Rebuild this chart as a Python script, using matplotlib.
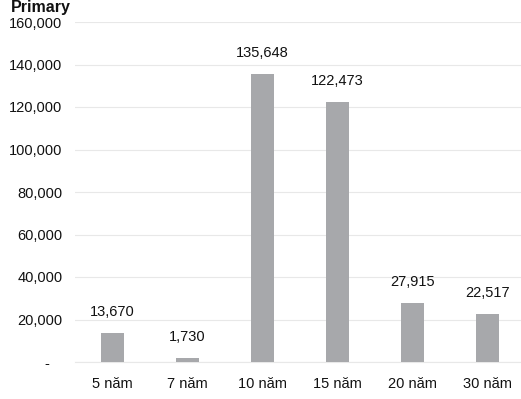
import matplotlib
matplotlib.use("Agg")
import matplotlib.pyplot as plt
from matplotlib import font_manager

categories = ["5 năm", "7 năm", "10 năm", "15 năm", "20 năm", "30 năm"]
values = [13670, 1730, 135648, 122473, 27915, 22517]
yticks = [0, 20000, 40000, 60000, 80000, 100000, 120000, 140000, 160000]
ytick_labels = ["-   ", "20,000", "40,000", "60,000", "80,000", "100,000", "120,000", "140,000", "160,000"]

names = {f.name for f in font_manager.fontManager.ttflist}
fam = "Liberation Sans Narrow" if "Liberation Sans Narrow" in names else "Liberation Sans"
plt.rcParams["font.family"] = [fam, "DejaVu Sans"]

fig = plt.figure(figsize=(5.21, 3.99), dpi=100)
ax = fig.add_axes([75/521, 37/399, 450/521, 340/399])
x = list(range(len(categories)))
ax.bar(x, values, width=0.3, color="#a7a8ab", zorder=3)
ax.set_xlim(-0.5, 5.5)
ax.set_ylim(0, 160000)
ax.set_yticks(yticks)
ax.set_yticklabels(ytick_labels, fontsize=10.5, color="#111111")
ax.set_xticks(x)
ax.set_xticklabels(categories, fontsize=10.5, color="#111111")
ax.tick_params(axis="y", length=0, pad=9)
ax.tick_params(axis="x", length=0, pad=11)
ax.grid(axis="y", color="#e8e8e8", linewidth=0.8, zorder=0)
for s in ["top", "right", "left"]:
    ax.spines[s].set_visible(False)
ax.spines["bottom"].set_color("#e8e8e8")
for xi, v in zip(x, values):
    ax.annotate(f"{v:,}", (xi, v), xytext=(0, 10), textcoords="offset points",
                ha="center", va="bottom", fontsize=10.5, color="#111111")

fig.text(0.02, 0.97, "Primary", fontsize=11.5, fontweight="bold", color="#111111",
         va="baseline", ha="left", family=["Liberation Sans", "DejaVu Sans"])
fig.savefig("out.png", dpi=100)
